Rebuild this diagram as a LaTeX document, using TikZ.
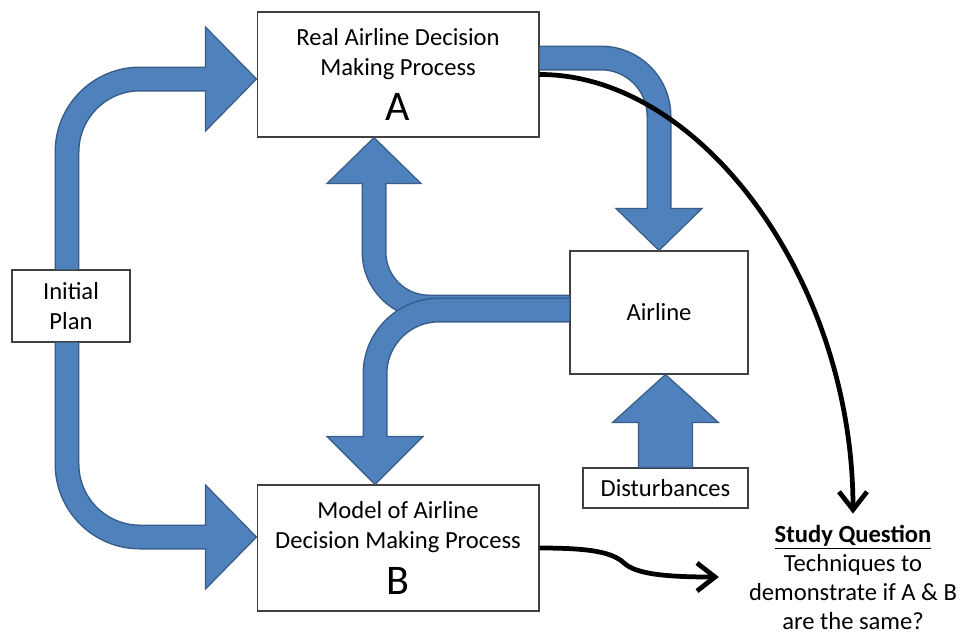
\documentclass[tikz,border=0pt]{standalone}
\usepackage{fontspec}
\setmainfont{Carlito}
\usetikzlibrary{calc,arrows.meta}

\definecolor{pipefill}{HTML}{4F81BD}
\definecolor{pipeline}{HTML}{385D8A}

\tikzset{
  box/.style={draw=black!75, line width=0.6pt, fill=white, align=center, font=\fontsize{14}{17}\selectfont},
  pipeout/.style={draw=pipeline, line width=0.5cm},
  pipein/.style={draw=pipefill, line width=0.44cm},
  head/.style={fill=pipefill, draw=pipeline, line width=0.7pt, line join=miter},
  studyarrow/.style={line width=2.7pt, -{Straight Barb[length=0.36cm,width=0.56cm]}},
}

\begin{document}
\begin{tikzpicture}[x=0.02cm, y=-0.02cm]
  \useasboundingbox (0,0) rectangle (963,637);

  % boxes
  \node[box, minimum width=5.64cm, minimum height=2.5cm] (A) at (398,74.5) {Real Airline Decision\\Making Process\\[7pt]{\fontsize{24}{24}\selectfont A}};
  \node[box, minimum width=5.64cm, minimum height=2.52cm] (B) at (398,548) {Model of Airline\\Decision Making Process\\[7pt]{\fontsize{24}{24}\selectfont B}};
  \node[box, minimum width=2.36cm, minimum height=1.44cm] (init) at (71,306) {Initial\\Plan};
  \node[box, minimum width=3.56cm, minimum height=2.46cm] (airline) at (659,312.5) {Airline};
  \node[box, minimum width=3.3cm, minimum height=0.8cm] (dist) at (665.5,488) {Disturbances};
  \node[align=center, font=\fontsize{14}{16.5}\selectfont] (sq) at (853,577) {\textbf{\underline{Study Question}}\\Techniques to\\demonstrate if A \& B\\are the same?};

  \coordinate (Ain) at ([yshift=-0.09cm]A.west);
  \coordinate (Bin) at ([yshift=0.22cm]B.west);
  \coordinate (Aout) at ([yshift=0.33cm]A.east);
  \coordinate (Aup) at ([xshift=-0.48cm]A.south);
  \coordinate (Bdown) at ([xshift=-0.46cm]B.north);
  \coordinate (Lup) at ([yshift=0.11cm]airline.west);
  \coordinate (Ldown) at ([yshift=0.05cm]airline.west);
  \coordinate (Dtip) at (dist.north |- airline.south);
  \coordinate (sqin) at ([xshift=-0.48cm]sq.west);
  \coordinate (sqtop) at ([yshift=0.1cm]sq.north);

  % initial plan to A
  \draw[pipeout, rounded corners=1.46cm] ([xshift=-0.08cm]init.north) |- ($(Ain)+(-51,0)$);
  \draw[head] ($(Ain)+(-51,-52)$) -- (Ain) -- ($(Ain)+(-51,52)$) -- cycle;
  \draw[pipein, rounded corners=1.46cm] ([xshift=-0.08cm]init.north) |- ($(Ain)+(-48,0)$);

  % initial plan to B
  \draw[pipeout, rounded corners=1.46cm] ([xshift=-0.08cm]init.south) |- ($(Bin)+(-51,0)$);
  \draw[head] ($(Bin)+(-51,-52)$) -- (Bin) -- ($(Bin)+(-51,52)$) -- cycle;
  \draw[pipein, rounded corners=1.46cm] ([xshift=-0.08cm]init.south) |- ($(Bin)+(-48,0)$);

  % A to airline
  \draw[pipeout, rounded corners=1.16cm] (Aout) -| ($(airline.north)+(0,-42)$);
  \draw[head] ($(airline.north)+(-43,-42)$) -- (airline.north) -- ($(airline.north)+(43,-42)$) -- cycle;
  \draw[pipein, rounded corners=1.16cm] (Aout) -| ($(airline.north)+(0,-39)$);

  % airline to A
  \draw[pipeout, rounded corners=1.1cm] (Lup) -| ($(Aup)+(0,46)$);
  \draw[head] ($(Aup)+(-47,46)$) -- (Aup) -- ($(Aup)+(47,46)$) -- cycle;
  \draw[pipein, rounded corners=1.1cm] (Lup) -| ($(Aup)+(0,43)$);

  % airline to B
  \draw[pipeout, rounded corners=1.28cm] (Ldown) -| ($(Bdown)+(0,-48)$);
  \draw[head] ($(Bdown)+(-48,-48)$) -- (Bdown) -- ($(Bdown)+(48,-48)$) -- cycle;
  \draw[pipein, rounded corners=1.28cm] (Ldown) -| ($(Bdown)+(0,-45)$);

  % disturbances
  \draw[head] ($(dist.north)+(-27,0)$) -- ($(Dtip)+(-27,48)$) -- ($(Dtip)+(-53,48)$) -- (Dtip)
    -- ($(Dtip)+(53,48)$) -- ($(Dtip)+(27,48)$) -- ($(dist.north)+(27,0)$) -- cycle;

  % study question
  \draw[studyarrow] (A.east) .. controls (700,74) and (853,280) .. (sqtop);
  \draw[studyarrow] (B.east) .. controls (590,548) and (612,552) .. (624,563) .. controls (636,574) and (665,577) .. (sqin);
\end{tikzpicture}
\end{document}
